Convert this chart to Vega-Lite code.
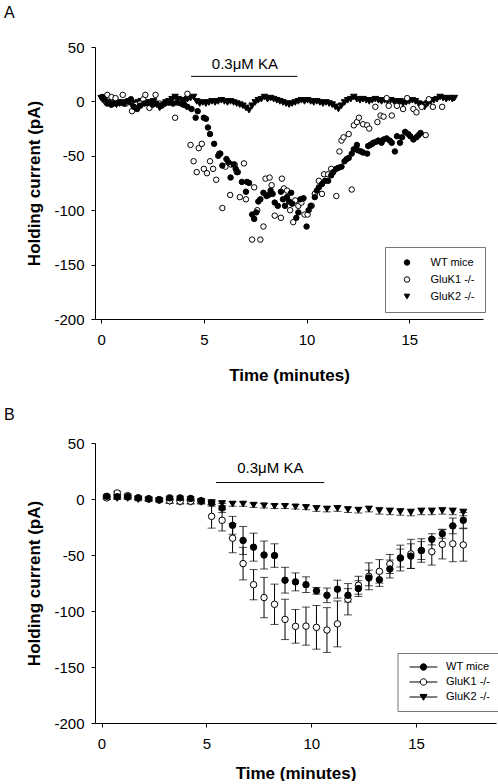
{
  "$schema": "https://vega.github.io/schema/vega-lite/v6.json",
  "padding": {"left": 4, "top": 5, "right": 0, "bottom": 0},
  "background": "white",
  "config": {
    "font": "Liberation Sans",
    "view": {"stroke": null},
    "axis": {
      "grid": false,
      "domainColor": "black",
      "domainWidth": 1,
      "tickColor": "black",
      "tickSize": 4,
      "labelFont": "Liberation Sans",
      "labelFontSize": 15,
      "labelColor": "black",
      "titleFont": "Liberation Sans",
      "titleFontSize": 17,
      "titleFontWeight": "bold",
      "titleColor": "black"
    },
    "axisX": {"labelPadding": 9, "titlePadding": 20},
    "axisY": {"labelPadding": 7, "titlePadding": 10},
    "legend": {
      "labelFont": "Liberation Sans",
      "labelFontSize": 11,
      "labelColor": "black",
      "strokeColor": "#777777",
      "cornerRadius": 0,
      "symbolStrokeColor": "black",
      "symbolFillColor": "black",
      "symbolStrokeWidth": 1
    },
    "title": {"font": "Liberation Sans", "fontSize": 16, "fontWeight": "normal", "color": "black", "anchor": "start", "frame": "group"}
  },
  "datasets": {
    "ann": [
      {"panel": "A", "start": 4.38, "end": 9.55, "level": 23, "mid": 7.0, "labelLevel": 34.3, "label": "0.3μM KA"},
      {"panel": "B", "start": 5.46, "end": 10.62, "level": 14.7, "mid": 8.05, "labelLevel": 27.6, "label": "0.3μM KA"}
    ],
    "rawA": [
      {"group": "GluK2 -/-", "time": 0.00, "current": 3},
      {"group": "GluK2 -/-", "time": 0.15, "current": 1},
      {"group": "GluK2 -/-", "time": 0.30, "current": -1},
      {"group": "GluK2 -/-", "time": 0.45, "current": -3},
      {"group": "GluK2 -/-", "time": 0.60, "current": -2},
      {"group": "GluK2 -/-", "time": 0.75, "current": -3},
      {"group": "GluK2 -/-", "time": 0.90, "current": -2},
      {"group": "GluK2 -/-", "time": 1.05, "current": -1},
      {"group": "GluK2 -/-", "time": 1.20, "current": -2},
      {"group": "GluK2 -/-", "time": 1.35, "current": 0},
      {"group": "GluK2 -/-", "time": 1.50, "current": -4},
      {"group": "GluK2 -/-", "time": 1.65, "current": -2},
      {"group": "GluK2 -/-", "time": 1.80, "current": -1},
      {"group": "GluK2 -/-", "time": 1.95, "current": 0},
      {"group": "GluK2 -/-", "time": 2.10, "current": -1},
      {"group": "GluK2 -/-", "time": 2.25, "current": -2},
      {"group": "GluK2 -/-", "time": 2.40, "current": -1},
      {"group": "GluK2 -/-", "time": 2.55, "current": 0},
      {"group": "GluK2 -/-", "time": 2.70, "current": -3},
      {"group": "GluK2 -/-", "time": 2.85, "current": -6},
      {"group": "GluK2 -/-", "time": 3.00, "current": -4},
      {"group": "GluK2 -/-", "time": 3.15, "current": -1},
      {"group": "GluK2 -/-", "time": 3.30, "current": 0},
      {"group": "GluK2 -/-", "time": 3.45, "current": 2},
      {"group": "GluK2 -/-", "time": 3.60, "current": 4},
      {"group": "GluK2 -/-", "time": 3.75, "current": 2},
      {"group": "GluK2 -/-", "time": 3.90, "current": 1},
      {"group": "GluK2 -/-", "time": 4.05, "current": 0},
      {"group": "GluK2 -/-", "time": 4.20, "current": 2},
      {"group": "GluK2 -/-", "time": 4.35, "current": 3},
      {"group": "GluK2 -/-", "time": 4.50, "current": 4},
      {"group": "GluK2 -/-", "time": 4.65, "current": 0},
      {"group": "GluK2 -/-", "time": 4.80, "current": -2},
      {"group": "GluK2 -/-", "time": 4.95, "current": -1},
      {"group": "GluK2 -/-", "time": 5.10, "current": -2},
      {"group": "GluK2 -/-", "time": 5.25, "current": -1},
      {"group": "GluK2 -/-", "time": 5.40, "current": 0},
      {"group": "GluK2 -/-", "time": 5.55, "current": -1},
      {"group": "GluK2 -/-", "time": 5.70, "current": 0},
      {"group": "GluK2 -/-", "time": 5.85, "current": 1},
      {"group": "GluK2 -/-", "time": 6.00, "current": 0},
      {"group": "GluK2 -/-", "time": 6.15, "current": -1},
      {"group": "GluK2 -/-", "time": 6.30, "current": 0},
      {"group": "GluK2 -/-", "time": 6.45, "current": -1},
      {"group": "GluK2 -/-", "time": 6.60, "current": -2},
      {"group": "GluK2 -/-", "time": 6.75, "current": -3},
      {"group": "GluK2 -/-", "time": 6.90, "current": -4},
      {"group": "GluK2 -/-", "time": 7.05, "current": -6},
      {"group": "GluK2 -/-", "time": 7.20, "current": -8},
      {"group": "GluK2 -/-", "time": 7.35, "current": -4},
      {"group": "GluK2 -/-", "time": 7.50, "current": -1},
      {"group": "GluK2 -/-", "time": 7.65, "current": 1},
      {"group": "GluK2 -/-", "time": 7.80, "current": 2},
      {"group": "GluK2 -/-", "time": 7.95, "current": 4},
      {"group": "GluK2 -/-", "time": 8.10, "current": 2},
      {"group": "GluK2 -/-", "time": 8.25, "current": 3},
      {"group": "GluK2 -/-", "time": 8.40, "current": 2},
      {"group": "GluK2 -/-", "time": 8.55, "current": 1},
      {"group": "GluK2 -/-", "time": 8.70, "current": 0},
      {"group": "GluK2 -/-", "time": 8.85, "current": -1},
      {"group": "GluK2 -/-", "time": 9.00, "current": -2},
      {"group": "GluK2 -/-", "time": 9.15, "current": -3},
      {"group": "GluK2 -/-", "time": 9.30, "current": -2},
      {"group": "GluK2 -/-", "time": 9.45, "current": -1},
      {"group": "GluK2 -/-", "time": 9.60, "current": 0},
      {"group": "GluK2 -/-", "time": 9.75, "current": 1},
      {"group": "GluK2 -/-", "time": 9.90, "current": 0},
      {"group": "GluK2 -/-", "time": 10.05, "current": 1},
      {"group": "GluK2 -/-", "time": 10.20, "current": 0},
      {"group": "GluK2 -/-", "time": 10.35, "current": -1},
      {"group": "GluK2 -/-", "time": 10.50, "current": 0},
      {"group": "GluK2 -/-", "time": 10.65, "current": -1},
      {"group": "GluK2 -/-", "time": 10.80, "current": -2},
      {"group": "GluK2 -/-", "time": 10.95, "current": -1},
      {"group": "GluK2 -/-", "time": 11.10, "current": -2},
      {"group": "GluK2 -/-", "time": 11.25, "current": -3},
      {"group": "GluK2 -/-", "time": 11.40, "current": -5},
      {"group": "GluK2 -/-", "time": 11.55, "current": -7},
      {"group": "GluK2 -/-", "time": 11.70, "current": -4},
      {"group": "GluK2 -/-", "time": 11.85, "current": -1},
      {"group": "GluK2 -/-", "time": 12.00, "current": 1},
      {"group": "GluK2 -/-", "time": 12.15, "current": 2},
      {"group": "GluK2 -/-", "time": 12.30, "current": 4},
      {"group": "GluK2 -/-", "time": 12.45, "current": 2},
      {"group": "GluK2 -/-", "time": 12.60, "current": 1},
      {"group": "GluK2 -/-", "time": 12.75, "current": 2},
      {"group": "GluK2 -/-", "time": 12.90, "current": 1},
      {"group": "GluK2 -/-", "time": 13.05, "current": 0},
      {"group": "GluK2 -/-", "time": 13.20, "current": 1},
      {"group": "GluK2 -/-", "time": 13.35, "current": 2},
      {"group": "GluK2 -/-", "time": 13.50, "current": 1},
      {"group": "GluK2 -/-", "time": 13.65, "current": 0},
      {"group": "GluK2 -/-", "time": 13.80, "current": 1},
      {"group": "GluK2 -/-", "time": 13.95, "current": 0},
      {"group": "GluK2 -/-", "time": 14.10, "current": 1},
      {"group": "GluK2 -/-", "time": 14.25, "current": 0},
      {"group": "GluK2 -/-", "time": 14.40, "current": -1},
      {"group": "GluK2 -/-", "time": 14.55, "current": 0},
      {"group": "GluK2 -/-", "time": 14.70, "current": -2},
      {"group": "GluK2 -/-", "time": 14.85, "current": -1},
      {"group": "GluK2 -/-", "time": 15.00, "current": 0},
      {"group": "GluK2 -/-", "time": 15.15, "current": 1},
      {"group": "GluK2 -/-", "time": 15.30, "current": 0},
      {"group": "GluK2 -/-", "time": 15.45, "current": -2},
      {"group": "GluK2 -/-", "time": 15.60, "current": -3},
      {"group": "GluK2 -/-", "time": 15.75, "current": -5},
      {"group": "GluK2 -/-", "time": 15.90, "current": -2},
      {"group": "GluK2 -/-", "time": 16.05, "current": 0},
      {"group": "GluK2 -/-", "time": 16.20, "current": 1},
      {"group": "GluK2 -/-", "time": 16.35, "current": 2},
      {"group": "GluK2 -/-", "time": 16.50, "current": 4},
      {"group": "GluK2 -/-", "time": 16.65, "current": 3},
      {"group": "GluK2 -/-", "time": 16.80, "current": 2},
      {"group": "GluK2 -/-", "time": 16.95, "current": 3},
      {"group": "GluK2 -/-", "time": 17.10, "current": 2},
      {"group": "GluK2 -/-", "time": 17.20, "current": 3},

      {"group": "GluK1 -/-", "time": 0.05, "current": 4},
      {"group": "GluK1 -/-", "time": 0.15, "current": 1},
      {"group": "GluK1 -/-", "time": 0.25, "current": -1},
      {"group": "GluK1 -/-", "time": 0.30, "current": 6},
      {"group": "GluK1 -/-", "time": 0.50, "current": 4},
      {"group": "GluK1 -/-", "time": 0.70, "current": 3},
      {"group": "GluK1 -/-", "time": 0.85, "current": -1},
      {"group": "GluK1 -/-", "time": 1.05, "current": 6},
      {"group": "GluK1 -/-", "time": 1.20, "current": -2},
      {"group": "GluK1 -/-", "time": 1.50, "current": -9},
      {"group": "GluK1 -/-", "time": 1.70, "current": -3},
      {"group": "GluK1 -/-", "time": 1.90, "current": -2},
      {"group": "GluK1 -/-", "time": 2.05, "current": 2},
      {"group": "GluK1 -/-", "time": 2.15, "current": 6},
      {"group": "GluK1 -/-", "time": 2.35, "current": -6},
      {"group": "GluK1 -/-", "time": 2.65, "current": 6},
      {"group": "GluK1 -/-", "time": 2.85, "current": -2},
      {"group": "GluK1 -/-", "time": 3.00, "current": -3},
      {"group": "GluK1 -/-", "time": 3.30, "current": -1},
      {"group": "GluK1 -/-", "time": 3.60, "current": -15},
      {"group": "GluK1 -/-", "time": 3.80, "current": -1},
      {"group": "GluK1 -/-", "time": 4.00, "current": -3},
      {"group": "GluK1 -/-", "time": 4.20, "current": 7},
      {"group": "GluK1 -/-", "time": 4.35, "current": -40},
      {"group": "GluK1 -/-", "time": 4.50, "current": -55},
      {"group": "GluK1 -/-", "time": 4.65, "current": -65},
      {"group": "GluK1 -/-", "time": 4.75, "current": -43},
      {"group": "GluK1 -/-", "time": 4.90, "current": -39},
      {"group": "GluK1 -/-", "time": 5.00, "current": -62},
      {"group": "GluK1 -/-", "time": 5.15, "current": -66},
      {"group": "GluK1 -/-", "time": 5.30, "current": -55},
      {"group": "GluK1 -/-", "time": 5.45, "current": -62},
      {"group": "GluK1 -/-", "time": 5.60, "current": -72},
      {"group": "GluK1 -/-", "time": 5.75, "current": -48},
      {"group": "GluK1 -/-", "time": 5.90, "current": -98},
      {"group": "GluK1 -/-", "time": 6.05, "current": -60},
      {"group": "GluK1 -/-", "time": 6.28, "current": -86},
      {"group": "GluK1 -/-", "time": 6.32, "current": -58},
      {"group": "GluK1 -/-", "time": 6.50, "current": -58},
      {"group": "GluK1 -/-", "time": 6.60, "current": -65},
      {"group": "GluK1 -/-", "time": 6.75, "current": -88},
      {"group": "GluK1 -/-", "time": 6.95, "current": -57},
      {"group": "GluK1 -/-", "time": 7.05, "current": -90},
      {"group": "GluK1 -/-", "time": 7.35, "current": -127},
      {"group": "GluK1 -/-", "time": 7.45, "current": -79},
      {"group": "GluK1 -/-", "time": 7.60, "current": -100},
      {"group": "GluK1 -/-", "time": 7.75, "current": -127},
      {"group": "GluK1 -/-", "time": 7.90, "current": -115},
      {"group": "GluK1 -/-", "time": 8.00, "current": -71},
      {"group": "GluK1 -/-", "time": 8.20, "current": -70},
      {"group": "GluK1 -/-", "time": 8.30, "current": -77},
      {"group": "GluK1 -/-", "time": 8.45, "current": -105},
      {"group": "GluK1 -/-", "time": 8.75, "current": -107},
      {"group": "GluK1 -/-", "time": 8.80, "current": -71},
      {"group": "GluK1 -/-", "time": 8.90, "current": -80},
      {"group": "GluK1 -/-", "time": 9.05, "current": -82},
      {"group": "GluK1 -/-", "time": 9.20, "current": -100},
      {"group": "GluK1 -/-", "time": 9.35, "current": -111},
      {"group": "GluK1 -/-", "time": 9.45, "current": -91},
      {"group": "GluK1 -/-", "time": 9.60, "current": -96},
      {"group": "GluK1 -/-", "time": 9.75, "current": -93},
      {"group": "GluK1 -/-", "time": 9.90, "current": -104},
      {"group": "GluK1 -/-", "time": 10.05, "current": -104},
      {"group": "GluK1 -/-", "time": 10.25, "current": -96},
      {"group": "GluK1 -/-", "time": 10.40, "current": -85},
      {"group": "GluK1 -/-", "time": 10.60, "current": -73},
      {"group": "GluK1 -/-", "time": 10.75, "current": -85},
      {"group": "GluK1 -/-", "time": 10.85, "current": -67},
      {"group": "GluK1 -/-", "time": 11.05, "current": -67},
      {"group": "GluK1 -/-", "time": 11.20, "current": -62},
      {"group": "GluK1 -/-", "time": 11.45, "current": -87},
      {"group": "GluK1 -/-", "time": 11.60, "current": -46},
      {"group": "GluK1 -/-", "time": 11.70, "current": -36},
      {"group": "GluK1 -/-", "time": 11.80, "current": -33},
      {"group": "GluK1 -/-", "time": 12.05, "current": -30},
      {"group": "GluK1 -/-", "time": 12.20, "current": -81},
      {"group": "GluK1 -/-", "time": 12.30, "current": -22},
      {"group": "GluK1 -/-", "time": 12.45, "current": -19},
      {"group": "GluK1 -/-", "time": 12.55, "current": -15},
      {"group": "GluK1 -/-", "time": 12.75, "current": -21},
      {"group": "GluK1 -/-", "time": 12.95, "current": -22},
      {"group": "GluK1 -/-", "time": 13.05, "current": -25},
      {"group": "GluK1 -/-", "time": 13.35, "current": -5},
      {"group": "GluK1 -/-", "time": 13.45, "current": -19},
      {"group": "GluK1 -/-", "time": 13.60, "current": -13},
      {"group": "GluK1 -/-", "time": 13.75, "current": -14},
      {"group": "GluK1 -/-", "time": 13.90, "current": 3},
      {"group": "GluK1 -/-", "time": 14.00, "current": -4},
      {"group": "GluK1 -/-", "time": 14.15, "current": -13},
      {"group": "GluK1 -/-", "time": 14.40, "current": -4},
      {"group": "GluK1 -/-", "time": 14.70, "current": -7},
      {"group": "GluK1 -/-", "time": 14.90, "current": 3},
      {"group": "GluK1 -/-", "time": 15.20, "current": -7},
      {"group": "GluK1 -/-", "time": 15.35, "current": -10},
      {"group": "GluK1 -/-", "time": 15.60, "current": -5},
      {"group": "GluK1 -/-", "time": 15.80, "current": -31},
      {"group": "GluK1 -/-", "time": 15.95, "current": 2},
      {"group": "GluK1 -/-", "time": 16.15, "current": -5},
      {"group": "GluK1 -/-", "time": 16.60, "current": -5},

      {"group": "WT mice", "time": 0.05, "current": 4},
      {"group": "WT mice", "time": 0.15, "current": 2},
      {"group": "WT mice", "time": 0.30, "current": -2},
      {"group": "WT mice", "time": 0.50, "current": -3},
      {"group": "WT mice", "time": 0.70, "current": -2},
      {"group": "WT mice", "time": 0.90, "current": -1},
      {"group": "WT mice", "time": 1.10, "current": -2},
      {"group": "WT mice", "time": 1.30, "current": 0},
      {"group": "WT mice", "time": 1.45, "current": 2},
      {"group": "WT mice", "time": 1.60, "current": -5},
      {"group": "WT mice", "time": 1.75, "current": -7},
      {"group": "WT mice", "time": 1.90, "current": -4},
      {"group": "WT mice", "time": 2.10, "current": -2},
      {"group": "WT mice", "time": 2.30, "current": -1},
      {"group": "WT mice", "time": 2.50, "current": -3},
      {"group": "WT mice", "time": 2.70, "current": -2},
      {"group": "WT mice", "time": 2.90, "current": -4},
      {"group": "WT mice", "time": 3.10, "current": -2},
      {"group": "WT mice", "time": 3.30, "current": -1},
      {"group": "WT mice", "time": 3.50, "current": -2},
      {"group": "WT mice", "time": 3.70, "current": -1},
      {"group": "WT mice", "time": 3.90, "current": -2},
      {"group": "WT mice", "time": 4.05, "current": -3},
      {"group": "WT mice", "time": 4.20, "current": -5},
      {"group": "WT mice", "time": 4.40, "current": -7},
      {"group": "WT mice", "time": 4.60, "current": -15},
      {"group": "WT mice", "time": 4.70, "current": -9},
      {"group": "WT mice", "time": 5.00, "current": -15},
      {"group": "WT mice", "time": 5.10, "current": -16},
      {"group": "WT mice", "time": 5.20, "current": -24},
      {"group": "WT mice", "time": 5.30, "current": -30},
      {"group": "WT mice", "time": 5.50, "current": -39},
      {"group": "WT mice", "time": 5.70, "current": -50},
      {"group": "WT mice", "time": 5.80, "current": -48},
      {"group": "WT mice", "time": 5.90, "current": -59},
      {"group": "WT mice", "time": 6.10, "current": -53},
      {"group": "WT mice", "time": 6.20, "current": -56},
      {"group": "WT mice", "time": 6.30, "current": -70},
      {"group": "WT mice", "time": 6.45, "current": -58},
      {"group": "WT mice", "time": 6.55, "current": -62},
      {"group": "WT mice", "time": 6.65, "current": -65},
      {"group": "WT mice", "time": 6.85, "current": -74},
      {"group": "WT mice", "time": 7.05, "current": -83},
      {"group": "WT mice", "time": 7.10, "current": -74},
      {"group": "WT mice", "time": 7.20, "current": -75},
      {"group": "WT mice", "time": 7.35, "current": -104},
      {"group": "WT mice", "time": 7.45, "current": -108},
      {"group": "WT mice", "time": 7.55, "current": -102},
      {"group": "WT mice", "time": 7.65, "current": -92},
      {"group": "WT mice", "time": 7.75, "current": -90},
      {"group": "WT mice", "time": 7.90, "current": -84},
      {"group": "WT mice", "time": 8.05, "current": -87},
      {"group": "WT mice", "time": 8.15, "current": -86},
      {"group": "WT mice", "time": 8.25, "current": -82},
      {"group": "WT mice", "time": 8.35, "current": -85},
      {"group": "WT mice", "time": 8.45, "current": -93},
      {"group": "WT mice", "time": 8.60, "current": -96},
      {"group": "WT mice", "time": 8.75, "current": -83},
      {"group": "WT mice", "time": 8.85, "current": -90},
      {"group": "WT mice", "time": 8.95, "current": -96},
      {"group": "WT mice", "time": 9.05, "current": -88},
      {"group": "WT mice", "time": 9.15, "current": -92},
      {"group": "WT mice", "time": 9.25, "current": -84},
      {"group": "WT mice", "time": 9.30, "current": -94},
      {"group": "WT mice", "time": 9.50, "current": -107},
      {"group": "WT mice", "time": 9.60, "current": -102},
      {"group": "WT mice", "time": 9.70, "current": -90},
      {"group": "WT mice", "time": 9.85, "current": -89},
      {"group": "WT mice", "time": 10.00, "current": -115},
      {"group": "WT mice", "time": 10.10, "current": -100},
      {"group": "WT mice", "time": 10.20, "current": -96},
      {"group": "WT mice", "time": 10.40, "current": -88},
      {"group": "WT mice", "time": 10.50, "current": -82},
      {"group": "WT mice", "time": 10.60, "current": -79},
      {"group": "WT mice", "time": 10.75, "current": -76},
      {"group": "WT mice", "time": 10.90, "current": -73},
      {"group": "WT mice", "time": 11.05, "current": -73},
      {"group": "WT mice", "time": 11.20, "current": -68},
      {"group": "WT mice", "time": 11.30, "current": -65},
      {"group": "WT mice", "time": 11.45, "current": -62},
      {"group": "WT mice", "time": 11.55, "current": -61},
      {"group": "WT mice", "time": 11.70, "current": -60},
      {"group": "WT mice", "time": 11.85, "current": -55},
      {"group": "WT mice", "time": 11.95, "current": -53},
      {"group": "WT mice", "time": 12.05, "current": -52},
      {"group": "WT mice", "time": 12.20, "current": -48},
      {"group": "WT mice", "time": 12.30, "current": -44},
      {"group": "WT mice", "time": 12.45, "current": -40},
      {"group": "WT mice", "time": 12.50, "current": -45},
      {"group": "WT mice", "time": 12.65, "current": -46},
      {"group": "WT mice", "time": 12.75, "current": -47},
      {"group": "WT mice", "time": 12.95, "current": -48},
      {"group": "WT mice", "time": 13.00, "current": -41},
      {"group": "WT mice", "time": 13.10, "current": -40},
      {"group": "WT mice", "time": 13.20, "current": -39},
      {"group": "WT mice", "time": 13.25, "current": -38},
      {"group": "WT mice", "time": 13.40, "current": -37},
      {"group": "WT mice", "time": 13.50, "current": -36},
      {"group": "WT mice", "time": 13.65, "current": -38},
      {"group": "WT mice", "time": 13.75, "current": -35},
      {"group": "WT mice", "time": 13.90, "current": -34},
      {"group": "WT mice", "time": 14.05, "current": -36},
      {"group": "WT mice", "time": 14.15, "current": -38},
      {"group": "WT mice", "time": 14.30, "current": -46},
      {"group": "WT mice", "time": 14.40, "current": -32},
      {"group": "WT mice", "time": 14.55, "current": -38},
      {"group": "WT mice", "time": 14.65, "current": -33},
      {"group": "WT mice", "time": 14.80, "current": -28},
      {"group": "WT mice", "time": 14.95, "current": -30},
      {"group": "WT mice", "time": 15.05, "current": -32},
      {"group": "WT mice", "time": 15.20, "current": -35},
      {"group": "WT mice", "time": 15.35, "current": -33},
      {"group": "WT mice", "time": 15.45, "current": -31},
      {"group": "WT mice", "time": 15.55, "current": -29}
    ],
    "meanB": [
      {"group": "GluK2 -/-", "time": 0.25, "mean": 1, "sem": 1},
      {"group": "GluK2 -/-", "time": 0.75, "mean": 0.5, "sem": 1},
      {"group": "GluK2 -/-", "time": 1.25, "mean": 0.5, "sem": 1},
      {"group": "GluK2 -/-", "time": 1.75, "mean": -0.5, "sem": 1},
      {"group": "GluK2 -/-", "time": 2.25, "mean": -1, "sem": 1},
      {"group": "GluK2 -/-", "time": 2.75, "mean": -1.5, "sem": 1},
      {"group": "GluK2 -/-", "time": 3.25, "mean": -2.5, "sem": 1.5},
      {"group": "GluK2 -/-", "time": 3.75, "mean": -3, "sem": 1.5},
      {"group": "GluK2 -/-", "time": 4.25, "mean": -3, "sem": 1.5},
      {"group": "GluK2 -/-", "time": 4.75, "mean": -3, "sem": 1.5},
      {"group": "GluK2 -/-", "time": 5.25, "mean": -3.5, "sem": 1.5},
      {"group": "GluK2 -/-", "time": 5.75, "mean": -4, "sem": 2},
      {"group": "GluK2 -/-", "time": 6.25, "mean": -4.5, "sem": 2},
      {"group": "GluK2 -/-", "time": 6.75, "mean": -4.5, "sem": 2},
      {"group": "GluK2 -/-", "time": 7.25, "mean": -5.5, "sem": 2},
      {"group": "GluK2 -/-", "time": 7.75, "mean": -6, "sem": 2},
      {"group": "GluK2 -/-", "time": 8.25, "mean": -6.5, "sem": 2},
      {"group": "GluK2 -/-", "time": 8.75, "mean": -6.5, "sem": 2},
      {"group": "GluK2 -/-", "time": 9.25, "mean": -7, "sem": 2},
      {"group": "GluK2 -/-", "time": 9.75, "mean": -7.5, "sem": 2},
      {"group": "GluK2 -/-", "time": 10.25, "mean": -8.5, "sem": 2.5},
      {"group": "GluK2 -/-", "time": 10.75, "mean": -9, "sem": 2.5},
      {"group": "GluK2 -/-", "time": 11.25, "mean": -8.5, "sem": 2.5},
      {"group": "GluK2 -/-", "time": 11.75, "mean": -9.5, "sem": 2.5},
      {"group": "GluK2 -/-", "time": 12.25, "mean": -10, "sem": 2.5},
      {"group": "GluK2 -/-", "time": 12.75, "mean": -9, "sem": 2.5},
      {"group": "GluK2 -/-", "time": 13.25, "mean": -10.5, "sem": 3},
      {"group": "GluK2 -/-", "time": 13.75, "mean": -11, "sem": 3},
      {"group": "GluK2 -/-", "time": 14.25, "mean": -11.5, "sem": 3},
      {"group": "GluK2 -/-", "time": 14.75, "mean": -12, "sem": 3},
      {"group": "GluK2 -/-", "time": 15.25, "mean": -11, "sem": 3},
      {"group": "GluK2 -/-", "time": 15.75, "mean": -11, "sem": 3},
      {"group": "GluK2 -/-", "time": 16.25, "mean": -10.5, "sem": 3},
      {"group": "GluK2 -/-", "time": 16.75, "mean": -11, "sem": 3},
      {"group": "GluK2 -/-", "time": 17.25, "mean": -12, "sem": 3},

      {"group": "GluK1 -/-", "time": 0.25, "mean": 1, "sem": 1.5},
      {"group": "GluK1 -/-", "time": 0.75, "mean": 5.4, "sem": 1.5},
      {"group": "GluK1 -/-", "time": 1.25, "mean": 3, "sem": 1.5},
      {"group": "GluK1 -/-", "time": 1.75, "mean": 1, "sem": 1.5},
      {"group": "GluK1 -/-", "time": 2.25, "mean": 0.3, "sem": 1.5},
      {"group": "GluK1 -/-", "time": 2.75, "mean": -1, "sem": 1.5},
      {"group": "GluK1 -/-", "time": 3.25, "mean": -1.5, "sem": 2},
      {"group": "GluK1 -/-", "time": 3.75, "mean": -2, "sem": 2},
      {"group": "GluK1 -/-", "time": 4.25, "mean": -2, "sem": 2},
      {"group": "GluK1 -/-", "time": 4.75, "mean": -2, "sem": 2},
      {"group": "GluK1 -/-", "time": 5.25, "mean": -15.5, "sem": 10.5},
      {"group": "GluK1 -/-", "time": 5.75, "mean": -19, "sem": 9.5},
      {"group": "GluK1 -/-", "time": 6.25, "mean": -35, "sem": 13},
      {"group": "GluK1 -/-", "time": 6.75, "mean": -57.7, "sem": 14.5},
      {"group": "GluK1 -/-", "time": 7.25, "mean": -76.5, "sem": 13.5},
      {"group": "GluK1 -/-", "time": 7.75, "mean": -88, "sem": 18},
      {"group": "GluK1 -/-", "time": 8.25, "mean": -94, "sem": 18},
      {"group": "GluK1 -/-", "time": 8.75, "mean": -107.5, "sem": 18},
      {"group": "GluK1 -/-", "time": 9.25, "mean": -113.7, "sem": 15},
      {"group": "GluK1 -/-", "time": 9.75, "mean": -113.5, "sem": 17},
      {"group": "GluK1 -/-", "time": 10.25, "mean": -114.6, "sem": 19.5},
      {"group": "GluK1 -/-", "time": 10.75, "mean": -117, "sem": 20},
      {"group": "GluK1 -/-", "time": 11.25, "mean": -111.5, "sem": 20.5},
      {"group": "GluK1 -/-", "time": 11.75, "mean": -89.5, "sem": 14},
      {"group": "GluK1 -/-", "time": 12.25, "mean": -77, "sem": 8},
      {"group": "GluK1 -/-", "time": 12.75, "mean": -69, "sem": 12},
      {"group": "GluK1 -/-", "time": 13.25, "mean": -64.6, "sem": 10.5},
      {"group": "GluK1 -/-", "time": 13.75, "mean": -58, "sem": 8.5},
      {"group": "GluK1 -/-", "time": 14.25, "mean": -52.7, "sem": 11.5},
      {"group": "GluK1 -/-", "time": 14.75, "mean": -49, "sem": 13},
      {"group": "GluK1 -/-", "time": 15.25, "mean": -46, "sem": 10.5},
      {"group": "GluK1 -/-", "time": 15.75, "mean": -47, "sem": 12},
      {"group": "GluK1 -/-", "time": 16.25, "mean": -40.5, "sem": 13},
      {"group": "GluK1 -/-", "time": 16.75, "mean": -40, "sem": 16},
      {"group": "GluK1 -/-", "time": 17.25, "mean": -41, "sem": 14.5},

      {"group": "WT mice", "time": 0.25, "mean": 2.4, "sem": 1.5},
      {"group": "WT mice", "time": 0.75, "mean": 2, "sem": 1.5},
      {"group": "WT mice", "time": 1.25, "mean": 2, "sem": 1.5},
      {"group": "WT mice", "time": 1.75, "mean": 1, "sem": 1.5},
      {"group": "WT mice", "time": 2.25, "mean": 0, "sem": 1.5},
      {"group": "WT mice", "time": 2.75, "mean": -0.5, "sem": 1.5},
      {"group": "WT mice", "time": 3.25, "mean": 1, "sem": 1.5},
      {"group": "WT mice", "time": 3.75, "mean": 1, "sem": 1.5},
      {"group": "WT mice", "time": 4.25, "mean": 0.5, "sem": 1.5},
      {"group": "WT mice", "time": 4.75, "mean": -1.5, "sem": 2},
      {"group": "WT mice", "time": 5.25, "mean": -3.5, "sem": 3},
      {"group": "WT mice", "time": 5.75, "mean": -8, "sem": 4},
      {"group": "WT mice", "time": 6.25, "mean": -23.5, "sem": 8},
      {"group": "WT mice", "time": 6.75, "mean": -37, "sem": 12.5},
      {"group": "WT mice", "time": 7.25, "mean": -43, "sem": 12.5},
      {"group": "WT mice", "time": 7.75, "mean": -50, "sem": 12.5},
      {"group": "WT mice", "time": 8.25, "mean": -50.5, "sem": 10.5},
      {"group": "WT mice", "time": 8.75, "mean": -72.5, "sem": 11.5},
      {"group": "WT mice", "time": 9.25, "mean": -74, "sem": 8},
      {"group": "WT mice", "time": 9.75, "mean": -76.5, "sem": 7},
      {"group": "WT mice", "time": 10.25, "mean": -82, "sem": 3},
      {"group": "WT mice", "time": 10.75, "mean": -86, "sem": 6.5},
      {"group": "WT mice", "time": 11.25, "mean": -80.5, "sem": 8},
      {"group": "WT mice", "time": 11.75, "mean": -86, "sem": 6},
      {"group": "WT mice", "time": 12.25, "mean": -80, "sem": 7},
      {"group": "WT mice", "time": 12.75, "mean": -70.5, "sem": 7},
      {"group": "WT mice", "time": 13.25, "mean": -72, "sem": 6},
      {"group": "WT mice", "time": 13.75, "mean": -62.5, "sem": 8},
      {"group": "WT mice", "time": 14.25, "mean": -52.7, "sem": 8},
      {"group": "WT mice", "time": 14.75, "mean": -51, "sem": 11},
      {"group": "WT mice", "time": 15.25, "mean": -46, "sem": 8},
      {"group": "WT mice", "time": 15.75, "mean": -36, "sem": 5},
      {"group": "WT mice", "time": 16.25, "mean": -31, "sem": 4},
      {"group": "WT mice", "time": 16.75, "mean": -24, "sem": 7},
      {"group": "WT mice", "time": 17.25, "mean": -19, "sem": 7}
    ]
  },
  "resolve": {
    "scale": {"x": "independent", "y": "independent", "shape": "independent", "fill": "independent"},
    "legend": {"shape": "independent", "fill": "independent"}
  },
  "spacing": 24,
  "vconcat": [
    {
      "width": 388,
      "height": 272,
      "title": {"text": "A", "dx": -91, "offset": 19},
      "layer": [
        {
          "data": {"name": "ann"},
          "transform": [{"filter": "datum.panel === 'A'"}],
          "mark": {"type": "rule", "color": "black", "strokeWidth": 1},
          "encoding": {
            "x": {"field": "start", "type": "quantitative", "title": "Time (minutes)", "scale": {"domain": [-0.30, 18.59], "nice": false, "zero": false}},
            "x2": {"field": "end"},
            "y": {"field": "level", "type": "quantitative", "title": "Holding current (pA)", "scale": {"domain": [-200, 50], "nice": false}}
          }
        },
        {
          "data": {"name": "ann"},
          "transform": [{"filter": "datum.panel === 'A'"}],
          "mark": {"type": "text", "fontSize": 15, "color": "black", "baseline": "middle", "align": "center"},
          "encoding": {
            "x": {"field": "mid", "type": "quantitative", "title": "Time (minutes)", "scale": {"domain": [-0.30, 18.59], "nice": false, "zero": false}},
            "y": {"field": "labelLevel", "type": "quantitative", "title": "Holding current (pA)", "scale": {"domain": [-200, 50], "nice": false}},
            "text": {"field": "label"}
          }
        },
        {
          "data": {"name": "rawA"},
          "transform": [{"filter": "datum.group === 'GluK2 -/-'"}],
          "mark": {"type": "point", "filled": false, "size": 42, "stroke": "black", "strokeWidth": 1, "opacity": 1},
          "encoding": {
            "x": {"field": "time", "type": "quantitative", "title": "Time (minutes)", "scale": {"domain": [-0.30, 18.59], "nice": false, "zero": false}},
            "y": {"field": "current", "type": "quantitative", "title": "Holding current (pA)", "scale": {"domain": [-200, 50], "nice": false}},
            "shape": {"field": "group", "type": "nominal", "scale": {"domain": ["WT mice", "GluK1 -/-", "GluK2 -/-"], "range": ["circle", "circle", "triangle-down"]},
              "legend": {"title": null, "orient": "none", "legendX": 290, "legendY": 200, "padding": 10, "rowPadding": 5, "symbolSize": 30, "symbolOffset": 6.5, "labelOffset": 18, "symbolStrokeColor": "black", "symbolFillColor": "black", "symbolStrokeWidth": 1}},
            "fill": {"field": "group", "type": "nominal", "scale": {"domain": ["WT mice", "GluK1 -/-", "GluK2 -/-"], "range": ["black", "white", "black"]},
              "legend": {"title": null, "orient": "none", "legendX": 290, "legendY": 200, "padding": 10, "rowPadding": 5, "symbolSize": 30, "symbolOffset": 6.5, "labelOffset": 18, "symbolStrokeColor": "black", "symbolFillColor": "black", "symbolStrokeWidth": 1}}
          }
        },
        {
          "data": {"name": "rawA"},
          "transform": [{"filter": "datum.group !== 'GluK2 -/-'"}],
          "mark": {"type": "point", "filled": false, "size": 30, "stroke": "black", "strokeWidth": 1, "opacity": 1},
          "encoding": {
            "x": {"field": "time", "type": "quantitative", "title": "Time (minutes)", "scale": {"domain": [-0.30, 18.59], "nice": false, "zero": false}, "axis": {"values": [0, 5, 10, 15], "titlePadding": 20}},
            "y": {"field": "current", "type": "quantitative", "title": "Holding current (pA)", "scale": {"domain": [-200, 50], "nice": false}, "axis": {"values": [-200, -150, -100, -50, 0, 50], "labelExpr": "replace(datum.label, '\u2212', '-')"}},
            "shape": {"field": "group", "type": "nominal", "scale": {"domain": ["WT mice", "GluK1 -/-", "GluK2 -/-"], "range": ["circle", "circle", "triangle-down"]},
              "legend": {"title": null, "orient": "none", "legendX": 290, "legendY": 200, "padding": 10, "rowPadding": 5, "symbolSize": 30, "symbolOffset": 6.5, "labelOffset": 18, "symbolStrokeColor": "black", "symbolFillColor": "black", "symbolStrokeWidth": 1}},
            "fill": {"field": "group", "type": "nominal", "scale": {"domain": ["WT mice", "GluK1 -/-", "GluK2 -/-"], "range": ["black", "white", "black"]},
              "legend": {"title": null, "orient": "none", "legendX": 290, "legendY": 200, "padding": 10, "rowPadding": 5, "symbolSize": 30, "symbolOffset": 6.5, "labelOffset": 18, "symbolStrokeColor": "black", "symbolFillColor": "black", "symbolStrokeWidth": 1}}
          }
        }
      ]
    },
    {
      "width": 401,
      "height": 280,
      "title": {"text": "B", "dx": -91, "offset": 13},
      "resolve": {
        "scale": {"shape": "independent", "fill": "independent"},
        "legend": {"shape": "independent", "fill": "independent"}
      },
      "layer": [
        {
          "data": {"name": "ann"},
          "transform": [{"filter": "datum.panel === 'B'"}],
          "mark": {"type": "rule", "color": "black", "strokeWidth": 1},
          "encoding": {
            "x": {"field": "start", "type": "quantitative", "title": "Time (minutes)", "scale": {"domain": [-0.31, 18.81], "nice": false, "zero": false}},
            "x2": {"field": "end"},
            "y": {"field": "level", "type": "quantitative", "title": "Holding current (pA)", "scale": {"domain": [-200, 50], "nice": false}}
          }
        },
        {
          "data": {"name": "ann"},
          "transform": [{"filter": "datum.panel === 'B'"}],
          "mark": {"type": "text", "fontSize": 15, "color": "black", "baseline": "middle", "align": "center"},
          "encoding": {
            "x": {"field": "mid", "type": "quantitative", "title": "Time (minutes)", "scale": {"domain": [-0.31, 18.81], "nice": false, "zero": false}},
            "y": {"field": "labelLevel", "type": "quantitative", "title": "Holding current (pA)", "scale": {"domain": [-200, 50], "nice": false}},
            "text": {"field": "label"}
          }
        },
        {
          "data": {"name": "meanB"},
          "mark": {"type": "errorbar", "ticks": true, "size": 8, "thickness": 1, "color": "black"},
          "encoding": {
            "x": {"field": "time", "type": "quantitative", "title": "Time (minutes)", "scale": {"domain": [-0.31, 18.81], "nice": false, "zero": false}},
            "y": {"field": "mean", "type": "quantitative", "title": "Holding current (pA)", "scale": {"domain": [-200, 50], "nice": false}},
            "yError": {"field": "sem"}
          }
        },
        {
          "data": {"name": "meanB"},
          "mark": {"type": "point", "filled": false, "size": 42, "stroke": "black", "strokeWidth": 1, "opacity": 1},
          "encoding": {
            "x": {"field": "time", "type": "quantitative", "title": "Time (minutes)", "scale": {"domain": [-0.31, 18.81], "nice": false, "zero": false}, "axis": {"values": [0, 5, 10, 15], "titlePadding": 14}},
            "y": {"field": "mean", "type": "quantitative", "title": "Holding current (pA)", "scale": {"domain": [-200, 50], "nice": false}, "axis": {"values": [-200, -150, -100, -50, 0, 50], "labelExpr": "replace(datum.label, '\u2212', '-')"}},
            "shape": {"field": "group", "type": "nominal", "scale": {"domain": ["WT mice", "GluK1 -/-", "GluK2 -/-"], "range": ["circle", "circle", "triangle-down"]}, "legend": null},
            "fill": {"field": "group", "type": "nominal", "scale": {"domain": ["WT mice", "GluK1 -/-", "GluK2 -/-"], "range": ["black", "white", "black"]}, "legend": null}
          }
        },
        {
          "data": {"name": "meanB"},
          "transform": [{"filter": "false"}],
          "mark": {"type": "point", "filled": false, "size": 42, "stroke": "black", "strokeWidth": 1, "opacity": 1},
          "encoding": {
            "x": {"field": "time", "type": "quantitative", "title": "Time (minutes)", "scale": {"domain": [-0.31, 18.81], "nice": false, "zero": false}},
            "y": {"field": "mean", "type": "quantitative", "title": "Holding current (pA)", "scale": {"domain": [-200, 50], "nice": false}},
            "shape": {"field": "group", "type": "nominal",
              "scale": {"domain": ["WT mice", "GluK1 -/-", "GluK2 -/-"], "range": ["M-4.3,0L-1,0M1,0L4.3,0M-1,0A1,1,0,1,1,1,0A1,1,0,1,1,-1,0Z", "M-4.3,0L-1,0M1,0L4.3,0M-1,0A1,1,0,1,1,1,0A1,1,0,1,1,-1,0Z", "M-4.3,0L4.3,0M-1.1,-0.8L1.1,-0.8L0,1Z"]},
              "legend": {"title": null, "orient": "none", "legendX": 302.5, "legendY": 210, "padding": 8.5, "rowPadding": 3, "symbolSize": 42, "symbolOffset": 12, "labelOffset": 17, "symbolStrokeColor": "black", "symbolFillColor": "black", "symbolStrokeWidth": 1}},
            "fill": {"field": "group", "type": "nominal",
              "scale": {"domain": ["WT mice", "GluK1 -/-", "GluK2 -/-"], "range": ["black", "white", "black"]},
              "legend": {"title": null, "orient": "none", "legendX": 302.5, "legendY": 210, "padding": 8.5, "rowPadding": 3, "symbolSize": 42, "symbolOffset": 12, "labelOffset": 17, "symbolStrokeColor": "black", "symbolFillColor": "black", "symbolStrokeWidth": 1}}
          }
        }
      ]
    }
  ]
}
